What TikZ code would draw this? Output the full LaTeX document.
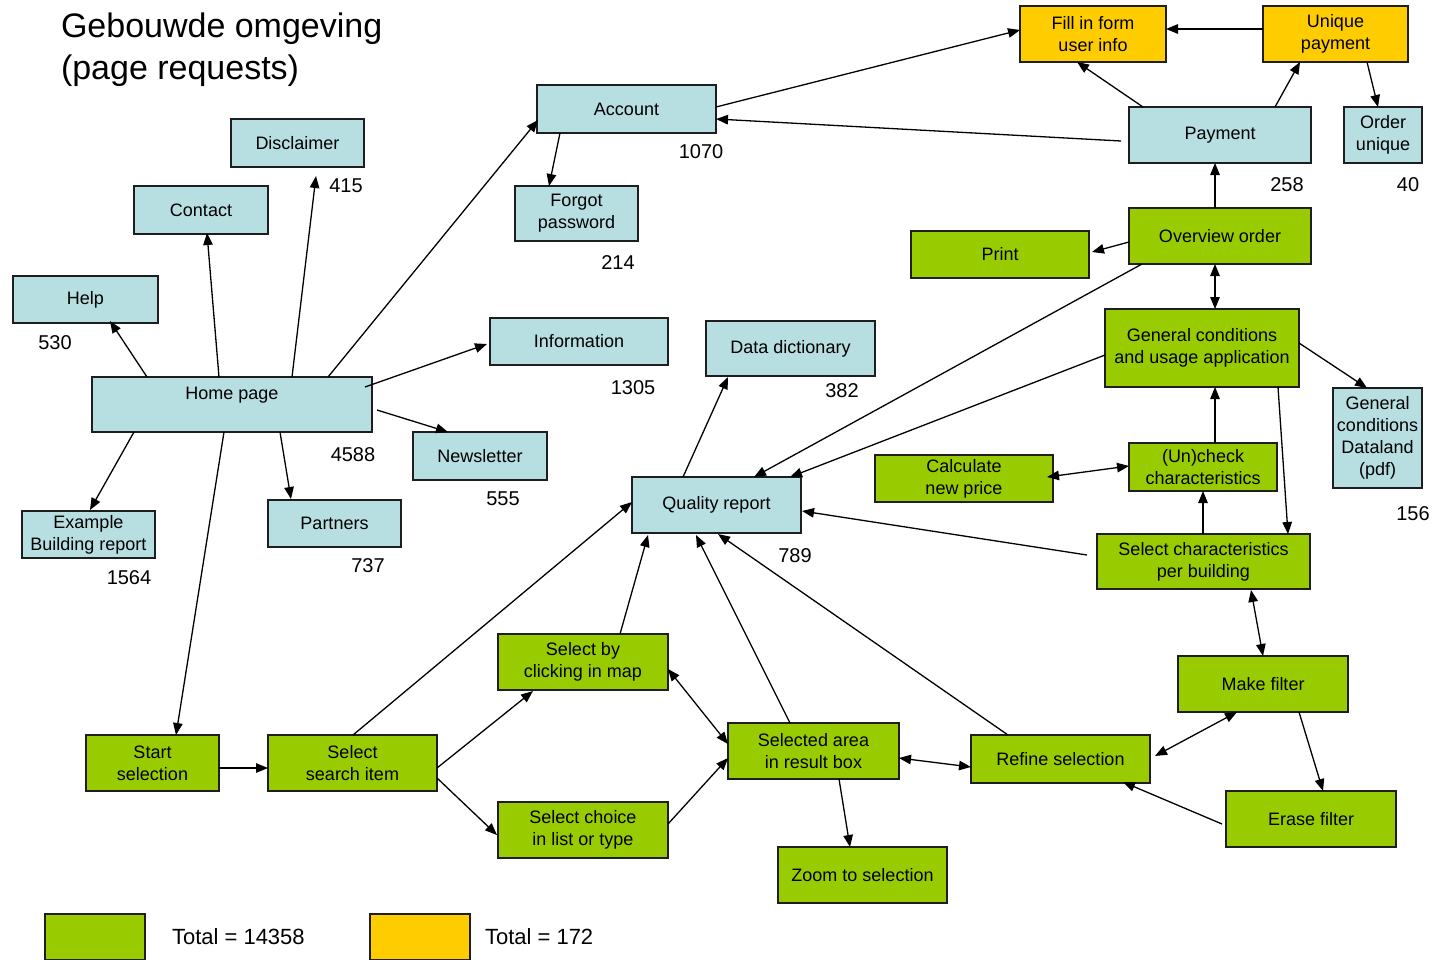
\documentclass[tikz,border=0pt]{standalone}
\usepackage{fontspec}
\setmainfont{Liberation Sans}
\usetikzlibrary{arrows.meta}
\definecolor{boxblue}{RGB}{183,222,225}
\definecolor{boxgreen}{RGB}{153,204,0}
\definecolor{boxyellow}{RGB}{255,204,0}
\definecolor{boxline}{RGB}{30,30,30}
\begin{document}
\begin{tikzpicture}[x=1pt,y=-1pt,
  every node/.style={inner sep=0pt, outer sep=0pt},
  base/.style={draw=boxline, line width=1.3pt, align=center,
    font=\fontsize{18}{22}\selectfont},
  bbox/.style={base, fill=boxblue},
  gbox/.style={base, fill=boxgreen},
  ybox/.style={base, fill=boxyellow},
  sz/.style 2 args={minimum width=#1pt, minimum height=#2pt},
  count/.style={font=\fontsize{20}{24}\selectfont},
  conn/.style={line width=1.3pt, -{Triangle[length=12pt,width=9.5pt]}},
  both/.style={line width=1.3pt, {Triangle[length=12pt,width=9.5pt]}-{Triangle[length=12pt,width=9.5pt]}},
  plain/.style={line width=1.3pt}]
\useasboundingbox (0,0) rectangle (1434,959);
\clip (0,0) rectangle (1434,959);
\fill[white] (0,0) rectangle (1434,959);

% title
\node[anchor=north west, align=left, font=\fontsize{34}{42}\selectfont] (title) at (61,13)
  {Gebouwde omgeving\\(page requests)};

% information pages
\node[bbox, sz={179}{48}] (acc) at (626.5,109) {Account};
\node[bbox, sz={133}{48}] (disc) at (297.5,143) {Disclaimer};
\node[bbox, sz={134}{48}] (cont) at (201,210) {Contact};
\node[bbox, sz={145}{47}] (help) at (85.5,299.5) {Help};
\node[bbox, sz={280}{55}] (home) at (232,404.5) {};
\node[font=\fontsize{18}{22}\selectfont] (homelbl) at (232,395) {Home page};
\node[bbox, sz={123}{55}] (forgot) at (576.5,213.5) {Forgot\\password};
\node[bbox, sz={178}{47}] (info) at (579,341.5) {Information};
\node[bbox, sz={169}{55}] (dd) at (790.5,348.5) {Data dictionary};
\node[bbox, sz={134}{48}] (news) at (480,456) {Newsletter};
\node[bbox, sz={133}{47}] (ex) at (88.5,534.5) {Example\\Building report};
\node[bbox, sz={133}{47}] (part) at (334.5,523.5) {Partners};
\node[bbox, sz={169}{56}] (qr) at (716.5,505) {Quality report};
\node[bbox, sz={182}{56}] (pay) at (1220,135) {Payment};
\node[bbox, sz={78}{56}] (ord) at (1383,135) {Order\\unique};
\node[bbox, sz={89}{100}] (gcd) at (1377.5,438) {General\\conditions\\Dataland\\(pdf)};

% payment steps
\node[ybox, sz={146}{56}] (fill) at (1093,34) {Fill in form\\user info};
\node[ybox, sz={145}{56}] (uniq) at (1335.5,34) {Unique\\payment};

% selection and ordering steps
\node[gbox, sz={182}{56}] (over) at (1220,236) {Overview order};
\node[gbox, sz={178}{47}] (print) at (1000,254.5) {Print};
\node[gbox, sz={194}{78}] (gcu) at (1202,348) {General conditions\\and usage application};
\node[gbox, sz={178}{47}] (calc) at (964,478.5) {Calculate\\new price};
\node[gbox, sz={148}{48}] (unch) at (1203,467) {(Un)check\\characteristics};
\node[gbox, sz={213}{55}] (selc) at (1203.5,561.5) {Select characteristics\\per building};
\node[gbox, sz={170}{56}] (make) at (1263,684) {Make filter};
\node[gbox, sz={170}{56}] (erase) at (1311,819) {Erase filter};
\node[gbox, sz={179}{48}] (refine) at (1060.5,759) {Refine selection};
\node[gbox, sz={171}{56}] (sela) at (813.5,751) {Selected area\\in result box};
\node[gbox, sz={169}{56}] (zoom) at (862.5,875) {Zoom to selection};
\node[gbox, sz={170}{56}] (sbc) at (583,662) {Select by\\clicking in map};
\node[gbox, sz={170}{56}] (sch) at (583,830) {Select choice\\in list or type};
\node[gbox, sz={169}{56}] (sss) at (352.5,763) {Select\\search item};
\node[gbox, sz={133}{56}] (start) at (152.5,763) {Start\\selection};

% page request counts
\node[count] (n1070) at (701,152) {1070};
\node[count] (n415) at (346,186) {415};
\node[count] (n530) at (55,343) {530};
\node[count] (n4588) at (353,455) {4588};
\node[count] (n214) at (618,263) {214};
\node[count] (n1305) at (633,388) {1305};
\node[count] (n382) at (842,391) {382};
\node[count] (n555) at (503,499) {555};
\node[count] (n1564) at (129,578) {1564};
\node[count] (n737) at (368,566) {737};
\node[count] (n789) at (795,556) {789};
\node[count] (n258) at (1287,185) {258};
\node[count] (n40) at (1408,185) {40};
\node[count] (n156) at (1413,514) {156};

% legend
\node[draw=boxline, line width=1.3pt, fill=boxgreen, sz={100}{46}] (leggreen) at (95,937) {};
\node[anchor=west, font=\fontsize{22}{24}\selectfont] (legg) at (172,937) {Total = 14358};
\node[draw=boxline, line width=1.3pt, fill=boxyellow, sz={100}{46}] (legyellow) at (420,937) {};
\node[anchor=west, font=\fontsize{22}{24}\selectfont] (legy) at (485,937) {Total = 172};

% connectors: home page
\draw[conn] ([shift={(55,0)}]home.north west) -- ([shift={(97,45)}]help.north west);
\draw[conn] ([shift={(127,0)}]home.north west) -- ([shift={(73,47)}]cont.north west);
\draw[conn] ([shift={(200,0)}]home.north west) -- ([shift={(85,57)}]disc.north west);
\draw[conn] ([shift={(236,0)}]home.north west) -- ([shift={(1,35)}]acc.north west);
\draw[conn] ([shift={(273,10)}]home.north west) -- ([shift={(-3,26)}]info.north west);
\draw[conn] ([shift={(285,33)}]home.north west) -- ([shift={(35,0)}]news.north west);
\draw[conn] ([shift={(42,55)}]home.north west) -- ([shift={(68,-1)}]ex.north west);
\draw[conn] ([shift={(188,55)}]home.north west) -- ([shift={(23,-1)}]part.north west);
\draw[conn] ([shift={(132,55)}]home.north west) -- ([shift={(90,0)}]start.north west);

% connectors: account and payment
\draw[conn] ([shift={(179,22)}]acc.north west) -- ([shift={(0,24)}]fill.north west);
\draw[conn] ([shift={(-8,34)}]pay.north west) -- ([shift={(179,34)}]acc.north west);
\draw[conn] ([shift={(23,48)}]acc.north west) -- ([shift={(34,0)}]forgot.north west);
\draw[conn] ([shift={(14,0)}]pay.north west) -- ([shift={(57,56)}]fill.north west);
\draw[conn] ([shift={(146,0)}]pay.north west) -- ([shift={(37,56)}]uniq.north west);
\draw[conn] ([shift={(0,23)}]uniq.north west) -- ([shift={(146,23)}]fill.north west);
\draw[conn] ([shift={(104,56)}]uniq.north west) -- ([shift={(34,0)}]ord.north west);
\draw[conn] ([shift={(86,0)}]over.north west) -- ([shift={(86,56)}]pay.north west);
\draw[conn] ([shift={(0,34)}]over.north west) -- ([shift={(181,21)}]print.north west);
\draw[both] ([shift={(86,56)}]over.north west) -- ([shift={(110,0)}]gcu.north west);
\draw[conn] ([shift={(13,56)}]over.north west) -- ([shift={(122,0)}]qr.north west);
\draw[conn] ([shift={(0,46)}]gcu.north west) -- ([shift={(158,0)}]qr.north west);
\draw[conn] ([shift={(194,34)}]gcu.north west) -- ([shift={(34,0)}]gcd.north west);
\draw[conn] ([shift={(173,78)}]gcu.north west) -- ([shift={(191,0)}]selc.north west);
\draw[conn] ([shift={(86,0)}]unch.north west) -- ([shift={(110,78)}]gcu.north west);
\draw[both] ([shift={(172,22)}]calc.north west) -- ([shift={(0,23)}]unch.north west);
\draw[conn] ([shift={(106,0)}]selc.north west) -- ([shift={(74,48)}]unch.north west);
\draw[conn] ([shift={(-10,21)}]selc.north west) -- ([shift={(170,34)}]qr.north west);
\draw[both] ([shift={(154,56)}]selc.north west) -- ([shift={(85,0)}]make.north west);

% connectors: selection
\draw[both] ([shift={(59,56)}]make.north west) -- ([shift={(184,21)}]refine.north west);
\draw[conn] ([shift={(121,56)}]make.north west) -- ([shift={(97,0)}]erase.north west);
\draw[conn] ([shift={(-4,33)}]erase.north west) -- ([shift={(152,47)}]refine.north west);
\draw[conn] ([shift={(37,0)}]refine.north west) -- ([shift={(86,57)}]qr.north west);
\draw[both] ([shift={(171,35)}]sela.north west) -- ([shift={(0,32)}]refine.north west);
\draw[conn] ([shift={(62,0)}]sela.north west) -- ([shift={(64,58)}]qr.north west);
\draw[conn] ([shift={(111,56)}]sela.north west) -- ([shift={(72,0)}]zoom.north west);
\draw[both] ([shift={(170,35)}]sbc.north west) -- ([shift={(0,21)}]sela.north west);
\draw[conn] ([shift={(170,22)}]sch.north west) -- ([shift={(0,35)}]sela.north west);
\draw[conn] ([shift={(122,0)}]sbc.north west) -- ([shift={(16,58)}]qr.north west);
\draw[conn] ([shift={(169,33)}]sss.north west) -- ([shift={(35,57)}]sbc.north west);
\draw[conn] ([shift={(169,43)}]sss.north west) -- ([shift={(-1,33)}]sch.north west);
\draw[conn] ([shift={(85,0)}]sss.north west) -- ([shift={(0,25)}]qr.north west);
\draw[conn] ([shift={(133,33)}]start.north west) -- ([shift={(0,33)}]sss.north west);
\draw[conn] ([shift={(51,0)}]qr.north west) -- ([shift={(22,56)}]dd.north west);
\end{tikzpicture}
\end{document}
